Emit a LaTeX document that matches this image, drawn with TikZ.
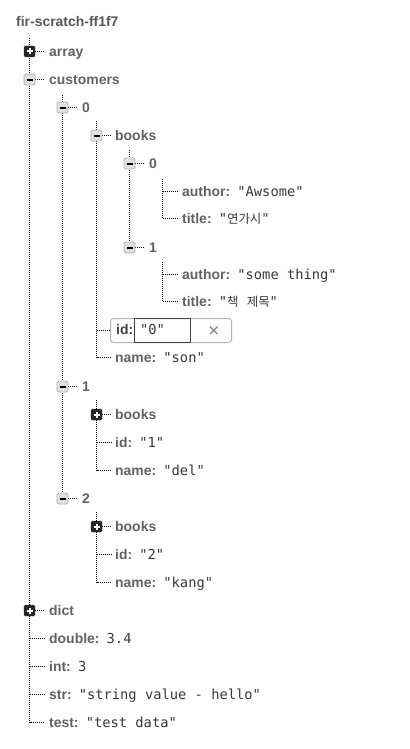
\documentclass[tikz,border=0pt]{standalone}
\usepackage{fontspec}
\setmainfont{Liberation Sans}
\setmonofont{DejaVu Sans Mono}
\newfontfamily\korfont{Noto Sans CJK KR}
\newfontfamily\symfont{DejaVu Sans}
\usetikzlibrary{backgrounds}
\newcommand\keyfont{\bfseries\fontsize{14}{16}\selectfont}
\newcommand\val[1]{\hspace{2pt}{\ttfamily\mdseries\fontsize{13.8}{16}\selectfont\color{black!78}#1}}
\newcommand\kor[1]{{\korfont\mdseries\fontsize{12.5}{16}\selectfont #1}}
\tikzset{
  key/.style={anchor=west, inner sep=0pt, text height=13bp, text depth=3bp, font=\keyfont, text=black!62},
  tline/.style={line width=1bp, dash pattern=on 1bp off 1bp, color=black},
  minusbox/.style={draw=black!30, fill=black!12, line width=0.8bp, rounded corners=1.5bp, minimum size=11bp, inner sep=0pt,
    path picture={\draw[line width=2bp, black] ([xshift=-3bp]path picture bounding box.center) -- ([xshift=3bp]path picture bounding box.center);}},
  plusbox/.style={draw=black!85, fill=black!85, rounded corners=1.5bp, minimum size=11bp, inner sep=0pt,
    path picture={\draw[line width=2bp, white] ([xshift=-3bp]path picture bounding box.center) -- ([xshift=3bp]path picture bounding box.center)
      ([yshift=-3bp]path picture bounding box.center) -- ([yshift=3bp]path picture bounding box.center);}},
  editbox/.style={draw=black!30, line width=1bp, rounded corners=3bp, minimum width=121bp, minimum height=24bp, inner sep=0pt}
}

\begin{document}
\begin{tikzpicture}[x=1bp, y=-1bp]
		\useasboundingbox (0,0) rectangle (409,749);
		%%%%% START %%%%%
		
		\node[key, text=black!66] (root) at (16,22) {fir-scratch-ff1f7};
		
		\node[plusbox] (arrayi) at (29.5,51.5) {};
		\node[key] (array) at (49,51.5) {array};
		\node[minusbox] (customersi) at (29.5,79.5) {};
		\node[key] (customers) at (49,79.5) {customers};
		
		\node[minusbox] (c0i) at (62.5,107.5) {};
		\node[key] (c0) at (82,107.5) {0};
		\node[minusbox] (books0i) at (96.5,135.5) {};
		\node[key] (books0) at (115,135.5) {books};
		\node[minusbox] (bk0i) at (129.5,163.5) {};
		\node[key] (bk0) at (149,163.5) {0};
		\node[key] (author0) at (182,191.5) {author: \val{"Awsome"}};
		\node[key] (title0) at (182,218.5) {title: \val{"\kor{연가시}"}};
		\node[minusbox] (bk1i) at (129.5,247.5) {};
		\node[key] (bk1) at (149,247.5) {1};
		\node[key] (author1) at (182,274.5) {author: \val{"some thing"}};
		\node[key] (title1) at (182,301.5) {title: \val{"\kor{책} \kor{제목}"}};
		
		\node[editbox] (idbox) at (171,330.5) {};
		\node[draw=black!75, line width=1bp, minimum width=56bp, minimum height=24bp, inner sep=0pt] (idfield) at (162.5,330.5) {};
		\node[key, text=black!75] (id0) at (116,329.5) {id:};
		\node[key] (id0val) at (138,329.5) {\val{"0"}};
		\node[text=black!55, font=\symfont\fontsize{15}{16}\selectfont, inner sep=0pt] (idclear) at (214,331) {×};
		\node[key] (name0) at (115,357.5) {name: \val{"son"}};
		
		\node[minusbox] (c1i) at (62.5,386.5) {};
		\node[key] (c1) at (82,386.5) {1};
		\node[plusbox] (books1i) at (96.5,414.5) {};
		\node[key] (books1) at (115,414.5) {books};
		\node[key] (id1) at (115,442.5) {id: \val{"1"}};
		\node[key] (name1) at (115,470.5) {name: \val{"del"}};
		
		\node[minusbox] (c2i) at (62.5,498.5) {};
		\node[key] (c2) at (82,498.5) {2};
		\node[plusbox] (books2i) at (96.5,526.5) {};
		\node[key] (books2) at (115,526.5) {books};
		\node[key] (id2) at (115,554.5) {id: \val{"2"}};
		\node[key] (name2) at (115,582.5) {name: \val{"kang"}};
		
		\node[plusbox] (dicti) at (29.5,610.5) {};
		\node[key] (dict) at (49,610.5) {dict};
		\node[key] (double) at (49,638.5) {double: \val{3.4}};
		\node[key] (int) at (49,666.5) {int: \val{3}};
		\node[key] (str) at (49,694.5) {str: \val{"string value - hello"}};
		\node[key] (test) at (49,722.5) {test: \val{"test data"}};
		
		\begin{scope}[on background layer]
		% vertical runs
		\draw[tline] ([yshift=13.5bp]arrayi.center) |- ([xshift=-4bp]test.west);
		\draw[tline] ([yshift=12.5bp]c0i.center) -- (c2i.center);
		\draw[tline] ([yshift=14.5bp]books0i.center) |- ([xshift=-4bp]name0.west);
		\draw[tline] ([yshift=13.5bp]bk0i.center) -- (bk1i.center);
		\draw[tline] ([xshift=-19.5bp,yshift=12.5bp]author0.west) |- ([xshift=-4bp]title0.west);
		\draw[tline] ([xshift=-19.5bp,yshift=12.5bp]author1.west) |- ([xshift=-4bp]title1.west);
		\draw[tline] ([yshift=14.5bp]books1i.center) |- ([xshift=-4bp]name1.west);
		\draw[tline] ([yshift=14.5bp]books2i.center) |- ([xshift=-4bp]name2.west);
		
		% stubs
		\draw[tline] (arrayi.east) -- ([xshift=-4bp]array.west);
		\draw[tline] (customersi.east) -- ([xshift=-4bp]customers.west);
		\draw[tline] (c0i.east) -- ([xshift=-4bp]c0.west);
		\draw[tline] (books0i.east) -- ([xshift=-4bp]books0.west);
		\draw[tline] (bk0i.east) -- ([xshift=-4bp]bk0.west);
		\draw[tline] (bk1i.east) -- ([xshift=-4bp]bk1.west);
		\draw[tline] ([xshift=-19.5bp]author0.west) -- ([xshift=-4bp]author0.west);
		\draw[tline] ([xshift=-19.5bp]author1.west) -- ([xshift=-4bp]author1.west);
		\draw[tline] (books0i |- idbox.west) -- (idbox.west);
		\draw[tline] (c1i.east) -- ([xshift=-4bp]c1.west);
		\draw[tline] (books1i.east) -- ([xshift=-4bp]books1.west);
		\draw[tline] (books1i |- id1.west) -- ([xshift=-4bp]id1.west);
		\draw[tline] (c2i.east) -- ([xshift=-4bp]c2.west);
		\draw[tline] (books2i.east) -- ([xshift=-4bp]books2.west);
		\draw[tline] (books2i |- id2.west) -- ([xshift=-4bp]id2.west);
		\draw[tline] (dicti.east) -- ([xshift=-4bp]dict.west);
		\draw[tline] (dicti |- double.west) -- ([xshift=-4bp]double.west);
		\draw[tline] (dicti |- int.west) -- ([xshift=-4bp]int.west);
		\draw[tline] (dicti |- str.west) -- ([xshift=-4bp]str.west);
		\end{scope}
		
		%%%%% END %%%%%
\end{tikzpicture}
\end{document}
